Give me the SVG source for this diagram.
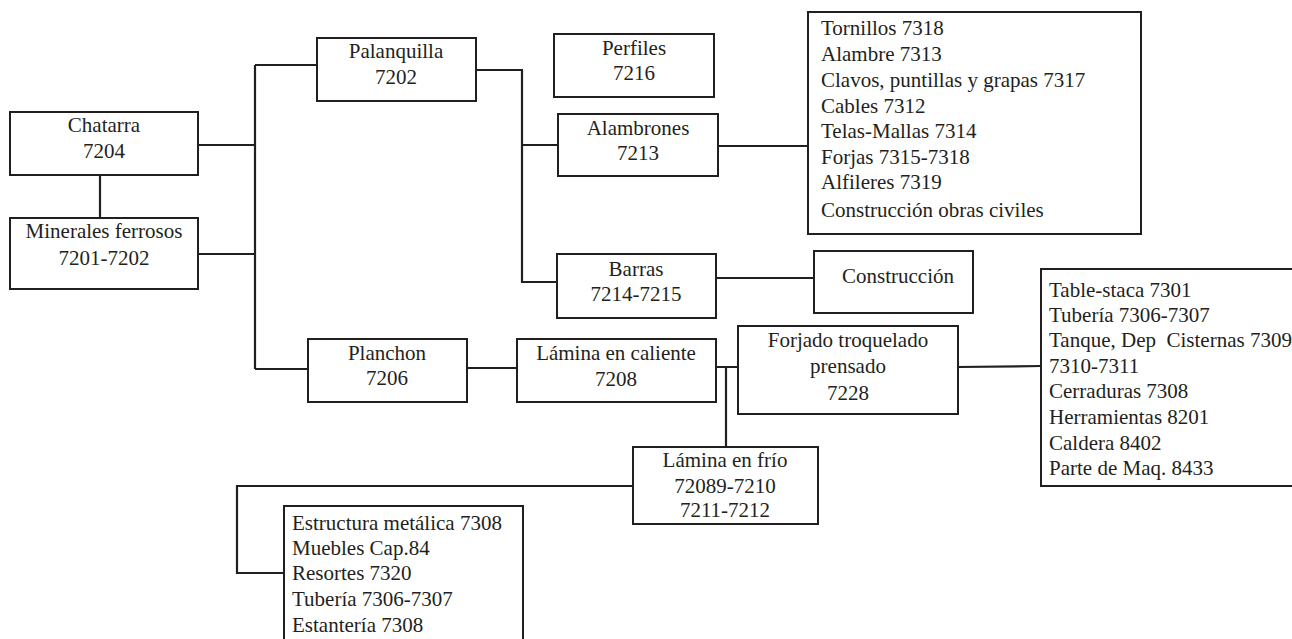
<svg xmlns="http://www.w3.org/2000/svg" width="1292" height="639" viewBox="0 0 1292 639">
<style>
.box{fill:#fff;stroke:#231f20;stroke-width:2}
.ln{fill:none;stroke:#231f20;stroke-width:2.2}
text{font-family:'Liberation Serif','DejaVu Serif',serif;font-size:21px;fill:#231f20}
.c{text-anchor:middle}
</style>
<rect width="1292" height="639" fill="#fff"/>
<g id="connectors">
<path class="ln" d="M100 175V218"/>
<path class="ln" d="M198 145H255M198 254H255M255 65V369M255 65H317M255 369H308"/>
<path class="ln" d="M476 70H522V282H557M522 145H558"/>
<path class="ln" d="M718 146H808"/>
<path class="ln" d="M716 278H814"/>
<path class="ln" d="M467 368H517"/>
<path class="ln" d="M716 367H738M726 367V447"/>
<path class="ln" d="M958 367L1041 366"/>
<path class="ln" d="M633 486H237V573H284"/>
</g>
<g id="chatarra"><rect class="box" x="10" y="112" width="188" height="63"/><text class="c" x="104" y="132">Chatarra</text><text class="c" x="104" y="158">7204</text></g>
<g id="minerales"><rect class="box" x="10" y="218" width="188" height="71"/><text class="c" x="104" y="238">Minerales ferrosos</text><text class="c" x="104" y="265">7201-7202</text></g>
<g id="palanquilla"><rect class="box" x="317" y="38" width="159" height="63"/><text class="c" x="396" y="58">Palanquilla</text><text class="c" x="396" y="84">7202</text></g>
<g id="perfiles"><rect class="box" x="554" y="34" width="160" height="63"/><text class="c" x="634" y="55">Perfiles</text><text class="c" x="634" y="80">7216</text></g>
<g id="alambrones"><rect class="box" x="558" y="114" width="160" height="62"/><text class="c" x="638" y="135">Alambrones</text><text class="c" x="638" y="160">7213</text></g>
<g id="lista-alambrones"><rect class="box" x="808" y="12" width="333" height="222"/>
<text x="821" y="35">Tornillos 7318</text>
<text x="821" y="61">Alambre 7313</text>
<text x="821" y="87">Clavos, puntillas y grapas 7317</text>
<text x="821" y="113">Cables 7312</text>
<text x="821" y="138">Telas-Mallas 7314</text>
<text x="821" y="164">Forjas 7315-7318</text>
<text x="821" y="189">Alfileres 7319</text>
<text x="821" y="217">Construcción obras civiles</text></g>
<g id="barras"><rect class="box" x="557" y="254" width="159" height="64"/><text class="c" x="636" y="276">Barras</text><text class="c" x="636" y="301">7214-7215</text></g>
<g id="construccion"><rect class="box" x="814" y="251" width="159" height="62"/><text class="c" x="898" y="283">Construcción</text></g>
<g id="planchon"><rect class="box" x="308" y="339" width="159" height="63"/><text class="c" x="387" y="360">Planchon</text><text class="c" x="387" y="385">7206</text></g>
<g id="lamina-caliente"><rect class="box" x="517" y="339" width="199" height="63"/><text class="c" x="616" y="360">Lámina en caliente</text><text class="c" x="616" y="386">7208</text></g>
<g id="forjado"><rect class="box" x="738" y="326" width="220" height="88"/><text class="c" x="848" y="347">Forjado troquelado</text><text class="c" x="848" y="373">prensado</text><text class="c" x="848" y="400">7228</text></g>
<g id="lista-forjado"><rect class="box" x="1041" y="269" width="270" height="217"/>
<text x="1049" y="297">Table-staca 7301</text>
<text x="1049" y="322">Tubería 7306-7307</text>
<text x="1049" y="347">Tanque, Dep&#160; Cisternas 7309</text>
<text x="1049" y="373">7310-7311</text>
<text x="1049" y="398">Cerraduras 7308</text>
<text x="1049" y="424">Herramientas 8201</text>
<text x="1049" y="450">Caldera 8402</text>
<text x="1049" y="475">Parte de Maq. 8433</text></g>
<g id="lamina-frio"><rect class="box" x="633" y="447" width="185" height="77"/><text class="c" x="725" y="467">Lámina en frío</text><text class="c" x="725" y="493">72089-7210</text><text class="c" x="725" y="517">7211-7212</text></g>
<g id="lista-frio"><rect class="box" x="284" y="506" width="239" height="150"/>
<text x="292" y="530">Estructura metálica 7308</text>
<text x="292" y="555">Muebles Cap.84</text>
<text x="292" y="580">Resortes 7320</text>
<text x="292" y="606">Tubería 7306-7307</text>
<text x="292" y="632">Estantería 7308</text></g>
</svg>
